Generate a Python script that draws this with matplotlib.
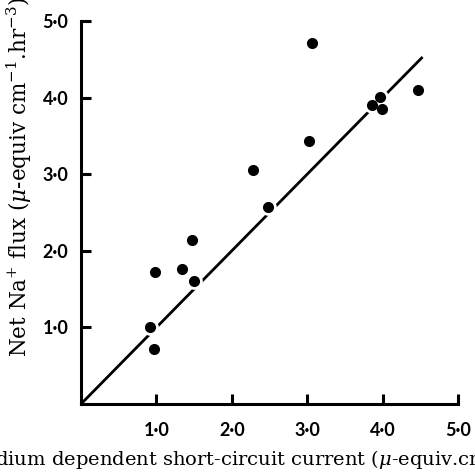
import numpy as np
import matplotlib
matplotlib.use("Agg")
import matplotlib.pyplot as plt

plt.rcParams['mathtext.fontset'] = 'dejavuserif'

# short-circuit current vs net Na+ flux
current = [0.92, 0.97, 0.98, 1.34, 1.47, 1.50, 2.28, 2.48, 3.03, 3.06, 3.86, 3.97, 3.99, 4.47]
flux = [1.00, 0.72, 1.72, 1.76, 2.14, 1.60, 3.05, 2.57, 3.43, 4.71, 3.90, 4.01, 3.85, 4.10]

# line of equality drawn through the data
fit_x = [0.0, 4.53]
fit_y = [0.0, 4.53]

ticks = [1.0, 2.0, 3.0, 4.0, 5.0]
tick_labels = ['1·0', '2·0', '3·0', '4·0', '5·0']

W, H = 475, 473
fig = plt.figure(figsize=(W / 100, H / 100), dpi=100)
ax = fig.add_axes([81 / W, (H - 404) / H, 377 / W, 383 / H])

ax.plot(fit_x, fit_y, color='black', lw=2.0, solid_capstyle='butt', zorder=1)
# white halo so the line breaks around the dots, as in print
ax.plot(current, flux, 'o', color='white', ms=12, mec='none', zorder=2)
ax.plot(current, flux, 'o', color='black', ms=8, mec='none', zorder=3)

ax.set_xlim(0, 5)
ax.set_ylim(0, 5)
ax.set_xticks(ticks)
ax.set_yticks(ticks)
ax.set_xticklabels(tick_labels, fontfamily='Lato', fontweight='bold', fontsize=13)
ax.set_yticklabels(tick_labels, fontfamily='Lato', fontweight='bold', fontsize=13)
ax.tick_params(direction='in', length=7, width=2.2, color='black')
ax.tick_params(axis='x', pad=13)
ax.tick_params(axis='y', pad=9)

for s in ['top', 'right']:
    ax.spines[s].set_visible(False)
for s in ['left', 'bottom']:
    ax.spines[s].set_linewidth(2.2)
    ax.spines[s].set_capstyle('projecting')

xlabel = r'Sodium dependent short-circuit current ($\mu$-equiv.cm$^{-2}$.hr$^{-1}$)'
ylabel = r'Net Na$^{+}$ flux ($\mu$-equiv cm$^{-1}$.hr$^{-3}$)'
lab_font = dict(fontfamily='DejaVu Serif', fontsize=14)

# the reference is cropped so that "So" falls off the left edge
fig.canvas.draw()
r = fig.canvas.get_renderer()
t1 = fig.text(0, 0, 'Sodium', **lab_font)
t2 = fig.text(0, 0, 'dium', **lab_font)
w_so = t1.get_window_extent(r).width - t2.get_window_extent(r).width
t1.remove()
t2.remove()

fig.text((-5 - w_so) / W, (H - 466) / H, xlabel, ha='left', va='baseline', **lab_font)
fig.text(19 / W, (H - 357) / H, ylabel, rotation=90, ha='center', va='bottom',
         fontfamily='DejaVu Serif', fontsize=15.5)

fig.savefig('out.png', dpi=100)
